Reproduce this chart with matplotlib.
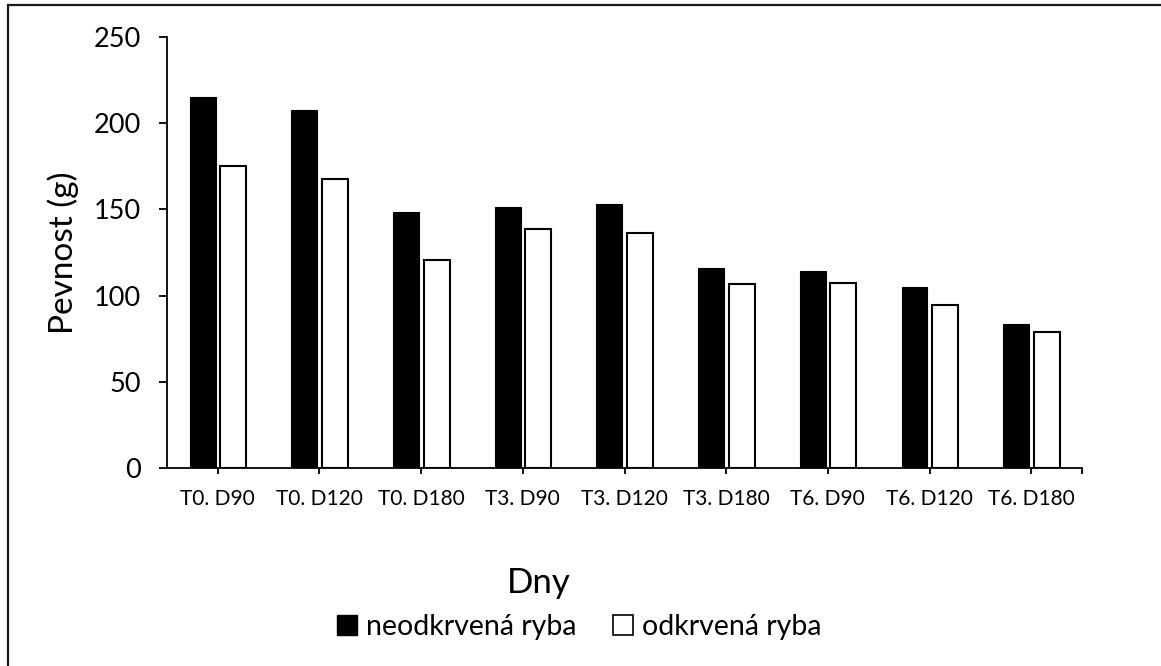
import matplotlib.pyplot as plt
from matplotlib.patches import Patch, Rectangle
import numpy as np

plt.rcParams['font.family'] = ['Lato', 'DejaVu Sans']

categories = ['T0. D90', 'T0. D120', 'T0. D180', 'T3. D90', 'T3. D120',
              'T3. D180', 'T6. D90', 'T6. D120', 'T6. D180']
neodkrvena = [215.5, 207.7, 148.3, 151.2, 153.1, 116.2, 114.4, 105.2, 83.7]
odkrvena = [175.2, 167.6, 120.5, 138.6, 136.5, 106.5, 107.3, 94.5, 79.1]
series_names = ['neodkrvená ryba', 'odkrvená ryba']

fig = plt.figure(figsize=(11.61, 6.66), dpi=100)
ax = fig.add_axes([0.1438, 0.2973, 0.7882, 0.6471])

x = np.arange(len(categories))
w = 0.255
ax.bar(x - 0.148, neodkrvena, w, color='black', edgecolor='black', linewidth=0.8)
ax.bar(x + 0.152, odkrvena, w, color='white', edgecolor='black', linewidth=1.5)

ax.set_xlim(-0.5, len(categories) - 0.5)
ax.set_ylim(0, 250)
ax.set_yticks(range(0, 251, 50))
ax.set_xticks(x)
ax.set_xticklabels(categories, fontsize=15)
ax.set_xticks([len(categories) - 0.5], minor=True)
ax.tick_params(axis='y', labelsize=19.5, length=6, width=1.3, pad=13)
ax.tick_params(axis='x', which='both', length=4, width=1.3, pad=11)

for side in ['top', 'right']:
    ax.spines[side].set_visible(False)
for side in ['left', 'bottom']:
    ax.spines[side].set_linewidth(1.3)

ax.set_ylabel('Pevnost (g)', fontsize=24, labelpad=10)
fig.text(0.464, 0.1096, 'Dny', fontsize=25, ha='center', va='baseline')

handles = [Patch(facecolor='black', edgecolor='black'),
           Patch(facecolor='white', edgecolor='black', linewidth=1.2)]
fig.legend(handles, series_names, loc='center', bbox_to_anchor=(0.499, 0.059),
           ncol=2, frameon=False, fontsize=20.5, handlelength=0.7,
           handleheight=0.7, handletextpad=0.3, columnspacing=1.3)

# chart border (only top and left edges visible in the original crop)
fig.patches.append(Rectangle((8 / 1161, -0.1), 1.2, 1.1 - 5.5 / 666,
                             transform=fig.transFigure, fill=False,
                             edgecolor='#1a1a1a', linewidth=1.6, clip_on=False))

fig.savefig('out.png', dpi=100)
